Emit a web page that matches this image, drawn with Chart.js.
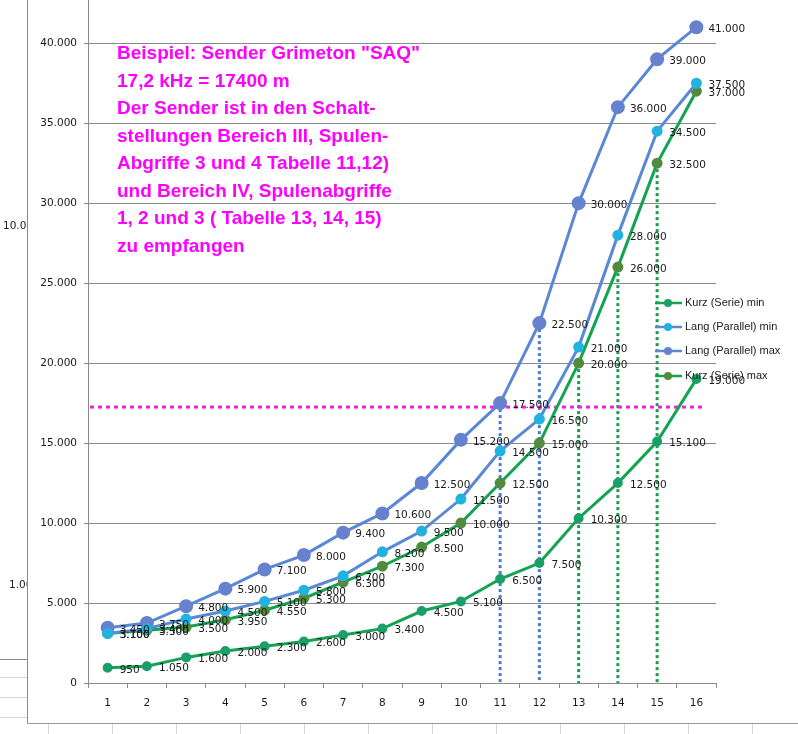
<!DOCTYPE html>
<html lang="de">
<head>
<meta charset="UTF-8">
<title>Sender Grimeton SAQ</title>
<script src="https://cdn.jsdelivr.net/npm/chart.js"></script>
<style>
    body { margin: 0; background: #fff; }
    #wrap { position: relative; width: 798px; height: 734px; overflow: hidden; }
    .ln { position: absolute; }
    .side { position: absolute; left: 0; top: 0; width: 27px; height: 734px; overflow: hidden; }
    .side span { position: absolute; font: 10.5px "DejaVu Sans", sans-serif; color: #222; white-space: nowrap; }
    #note { position: absolute; left: 117px; top: 39px; font: bold 19px "Liberation Sans", Arial, sans-serif;
            line-height: 27.5px; color: #ff00ff; white-space: nowrap; }
</style>
</head>
<body>
<div id="wrap">
    <canvas id="chart"></canvas>
    <!-- Reste des Tabellenblatts dahinter -->
    <div class="side">
        <span style="left:3px; top:219px;">10.000</span>
        <span style="left:9px; top:578px;">1.000</span>
        <div class="ln" style="left:0; top:659px; width:27px; height:1px; background:#8c8c8c;"></div>
        <div class="ln" style="left:0; top:677px; width:27px; height:1px; background:#d6d6d6;"></div>
        <div class="ln" style="left:0; top:697px; width:27px; height:1px; background:#d6d6d6;"></div>
        <div class="ln" style="left:0; top:717px; width:27px; height:1px; background:#d6d6d6;"></div>
    </div>
    <div class="ln" style="left:27px; top:0; width:1px; height:724px; background:#8c8c8c;"></div>
    <div class="ln" style="left:27px; top:723px; width:771px; height:1px; background:#9a9a9a;"></div>
    <div id="cells"></div>
    <div id="note">Beispiel: Sender Grimeton "SAQ"<br>17,2 kHz = 17400 m<br>Der Sender ist in den Schalt-<br>stellungen Bereich III, Spulen-<br>Abgriffe 3 und 4 Tabelle 11,12)<br>und Bereich IV, Spulenabgriffe<br>1, 2 und 3 ( Tabelle 13, 14, 15)<br>zu empfangen</div>
</div>

<script>
    const categories = ['1', '2', '3', '4', '5', '6', '7', '8', '9', '10', '11', '12', '13', '14', '15', '16'];
    const kurzMin = [950, 1050, 1600, 2000, 2300, 2600, 3000, 3400, 4500, 5100, 6500, 7500, 10300, 12500, 15100, 19000];
    const langMin = [3100, 3400, 4000, 4500, 5100, 5800, 6700, 8200, 9500, 11500, 14500, 16500, 21000, 28000, 34500, 37500];
    const langMax = [3450, 3750, 4800, 5900, 7100, 8000, 9400, 10600, 12500, 15200, 17500, 22500, 30000, 36000, 39000, 41000];
    const kurzMax = [3100, 3300, 3500, 3950, 4550, 5300, 6300, 7300, 8500, 10000, 12500, 15000, 20000, 26000, 32500, 37000];
    const yTicks = [0, 5000, 10000, 15000, 20000, 25000, 30000, 35000, 40000];

    // gepunktete Hilfslinien
    const guideCats = ['11', '12', '13', '14', '15'];
    const guideTops = [17500, 22500, 20000, 26000, 32500];
    const guideColors = ['#4a7cc6', '#4a7cc6', '#1a9a4e', '#1a9a4e', '#1a9a4e'];
    const markLevel = 17250;

    // Zellraster unten
    const cells = document.getElementById('cells');
    for (let x = 48; x < 798; x += 64) {
        cells.innerHTML += `<div class="ln" style="left:${x}px; top:724px; width:1px; height:10px; background:#d6d6d6;"></div>`;
    }

    function fmt(v) {
        return String(v).replace(/\B(?=(\d{3})+(?!\d))/g, '.');
    }

    const guides = {
        id: 'guides',
        beforeDatasetsDraw(chart) {
            const ctx = chart.ctx;
            const x = chart.scales.x, y = chart.scales.y;
            ctx.save();
            ctx.lineWidth = 3;
            ctx.setLineDash([3, 3]);
            guideCats.forEach((c, i) => {
                const px = x.getPixelForValue(categories.indexOf(c));
                ctx.strokeStyle = guideColors[i];
                ctx.beginPath();
                ctx.moveTo(px, y.getPixelForValue(guideTops[i]));
                ctx.lineTo(px, y.getPixelForValue(0));
                ctx.stroke();
            });
            ctx.setLineDash([4, 4]);
            ctx.strokeStyle = '#ee22dd';
            const py = y.getPixelForValue(markLevel);
            ctx.beginPath();
            ctx.moveTo(chart.chartArea.left + 2, py);
            ctx.lineTo(x.getPixelForValue(categories.length - 1) + 6, py);
            ctx.stroke();
            ctx.restore();
        }
    };

    const pointLabels = {
        id: 'pointLabels',
        afterDatasetsDraw(chart) {
            const ctx = chart.ctx;
            ctx.save();
            ctx.font = '10.5px "DejaVu Sans", sans-serif';
            ctx.fillStyle = '#1a1a1a';
            ctx.textAlign = 'left';
            ctx.textBaseline = 'middle';
            chart.data.datasets.forEach((ds, i) => {
                chart.getDatasetMeta(i).data.forEach((pt, j) => {
                    ctx.fillText(fmt(ds.data[j]), pt.x + 12, pt.y + 2);
                });
            });
            ctx.restore();
        }
    };

    const legendBox = {
        id: 'legendBox',
        afterDraw(chart) {
            const ctx = chart.ctx;
            const rows = [303, 327, 351, 376];
            ctx.save();
            ctx.font = '11px "Liberation Sans", Arial, sans-serif';
            ctx.textBaseline = 'middle';
            chart.data.datasets.forEach((ds, i) => {
                const yy = rows[i];
                ctx.strokeStyle = ds.borderColor;
                ctx.lineWidth = 2.5;
                ctx.beginPath();
                ctx.moveTo(655, yy);
                ctx.lineTo(682, yy);
                ctx.stroke();
                ctx.fillStyle = ds.pointBackgroundColor;
                ctx.beginPath();
                ctx.arc(668, yy, 4, 0, Math.PI * 2);
                ctx.fill();
                ctx.fillStyle = '#1a1a1a';
                ctx.fillText(ds.label, 685, yy);
            });
            ctx.restore();
        }
    };

    new Chart(document.getElementById('chart'), {
        type: 'line',
        data: {
            labels: categories,
            datasets: [
                { label: 'Kurz (Serie) min', data: kurzMin, borderColor: '#14a352', pointBackgroundColor: '#1a9f68',
                  pointBorderColor: '#1a9f68', pointRadius: 3.5, borderWidth: 3 },
                { label: 'Lang (Parallel) min', data: langMin, borderColor: '#5b88d4', pointBackgroundColor: '#22b2e2',
                  pointBorderColor: '#22b2e2', pointRadius: 4, borderWidth: 3 },
                { label: 'Lang (Parallel) max', data: langMax, borderColor: '#5b88d4', pointBackgroundColor: '#6682cf',
                  pointBorderColor: '#6682cf', pointRadius: 5.5, borderWidth: 3 },
                { label: 'Kurz (Serie) max', data: kurzMax, borderColor: '#14a352', pointBackgroundColor: '#538b3e',
                  pointBorderColor: '#538b3e', pointRadius: 4, borderWidth: 3 }
            ]
        },
        options: {
            responsive: true,
            maintainAspectRatio: false,
            animation: false,
            layout: { autoPadding: false, padding: { left: 28, right: 82, top: 0, bottom: 0 } },
            plugins: { legend: { display: false }, tooltip: { enabled: false } },
            scales: {
                x: {
                    offset: true,
                    afterFit: s => { s.height = 51; s.paddingLeft = 0; s.paddingRight = 0; },
                    grid: { offset: true, drawOnChartArea: false, tickLength: 5, color: '#8a8a8a' },
                    border: { color: '#8a8a8a' },
                    ticks: { font: { family: 'DejaVu Sans', size: 10.5 }, color: '#1a1a1a', padding: 9, maxRotation: 0 }
                },
                y: {
                    min: 0,
                    max: 42700,
                    afterFit: s => { s.width = 60; s.paddingTop = 0; s.paddingBottom = 0; },
                    afterBuildTicks: s => { s.ticks = yTicks.map(v => ({ value: v })); },
                    grid: { color: '#8a8a8a', tickLength: 4 },
                    border: { color: '#8a8a8a' },
                    ticks: { font: { family: 'DejaVu Sans', size: 10.5 }, color: '#1a1a1a', padding: 7,
                             callback: v => fmt(v) }
                }
            }
        },
        plugins: [guides, pointLabels, legendBox]
    });
</script>
</body>
</html>
